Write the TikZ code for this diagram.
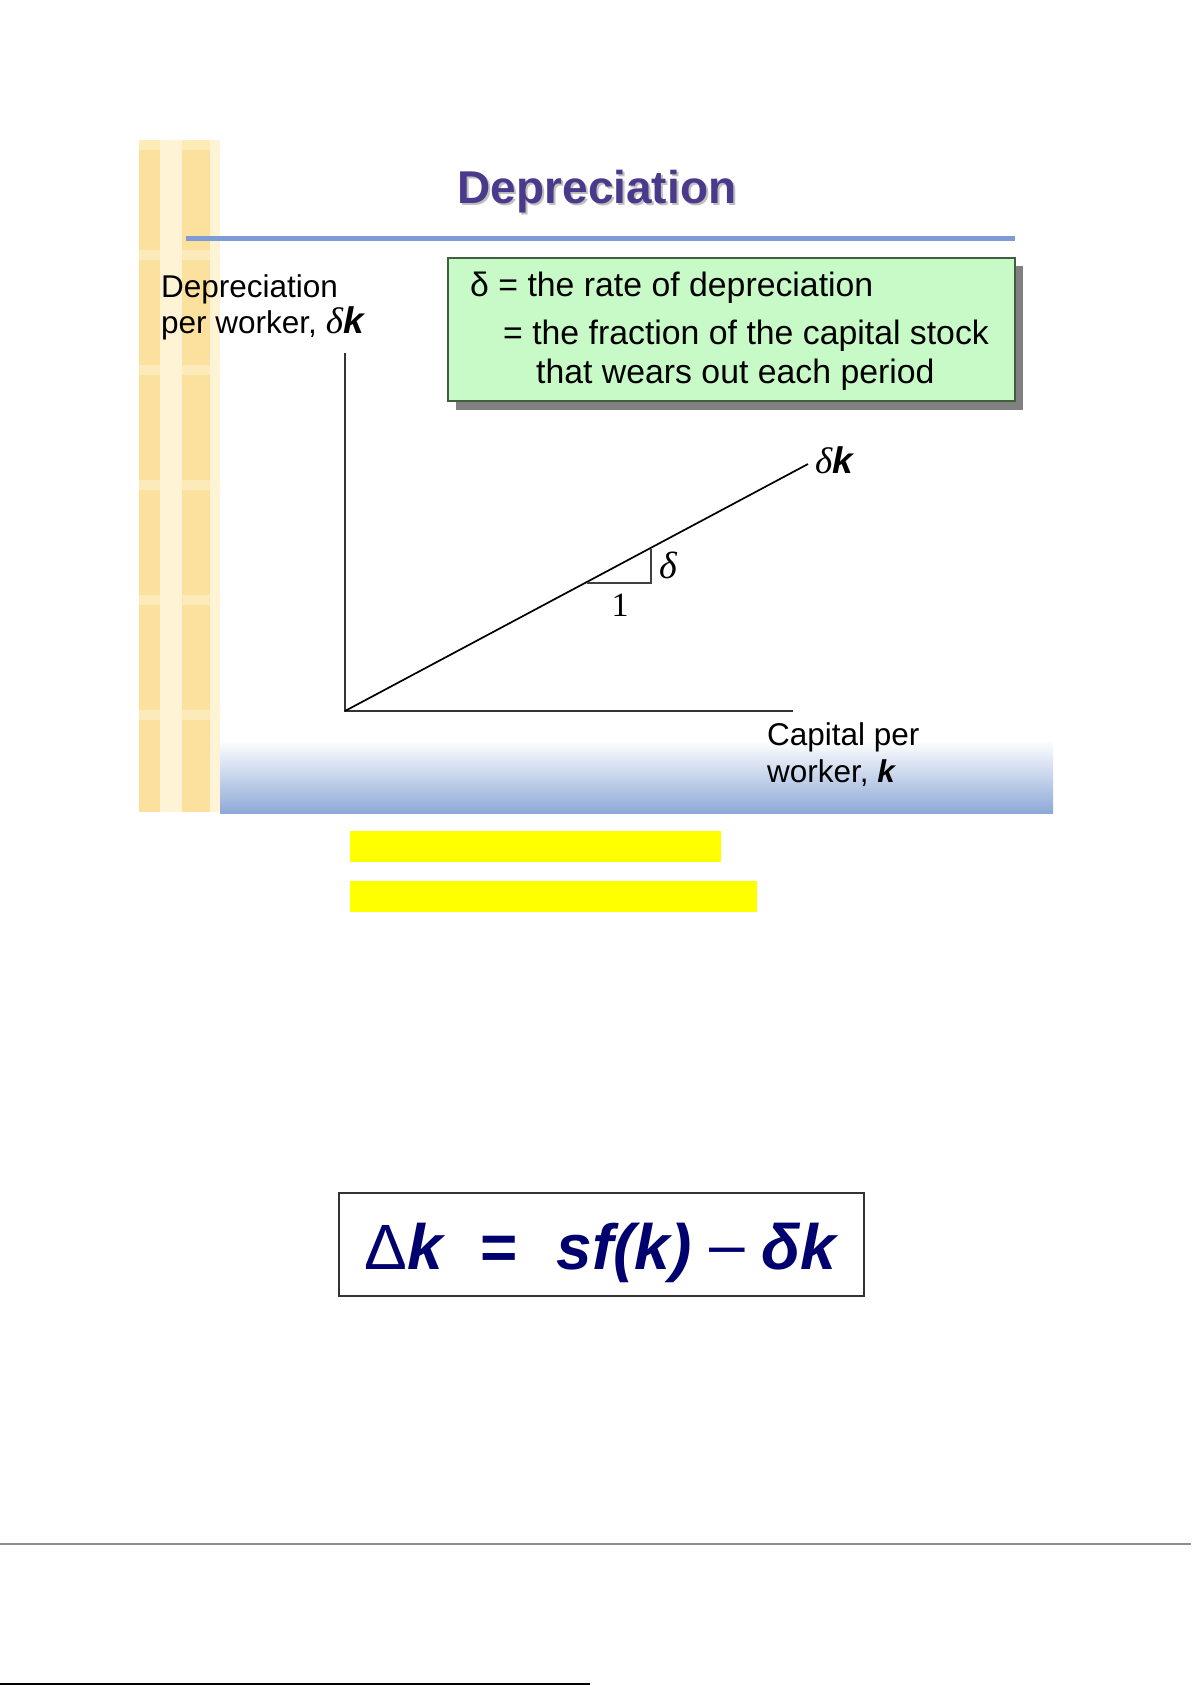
\documentclass[tikz,border=0pt]{standalone}
\usepackage{fontspec}
\setmainfont{Liberation Sans}
\newfontfamily\serifx{Liberation Serif}
\definecolor{stripBase}{HTML}{FDEBB8}
\definecolor{stripDark}{HTML}{FCE19E}
\definecolor{stripLight}{HTML}{FEF3D4}
\definecolor{titlePurple}{HTML}{4B3A8C}
\definecolor{ruleBlue}{HTML}{7F9BD6}
\definecolor{boxGreen}{HTML}{C8FAC8}
\definecolor{boxBorder}{HTML}{3F5F3F}
\definecolor{shadowGray}{HTML}{808080}
\definecolor{gradBlue}{HTML}{8EA9D8}
\definecolor{hiYellow}{HTML}{FFFF00}
\definecolor{navy}{RGB}{0,0,110}
\tikzset{
  txt/.style={inner sep=0pt, anchor=base west, font=\fontsize{31.5}{37}\selectfont},
  boxtxt/.style={inner sep=0pt, anchor=base west, font=\fontsize{33.8}{40}\selectfont},
  axis/.style={line width=1.6pt, black!80},
  curve/.style={line width=1.7pt, black},
  tri/.style={line width=1.2pt, black!75},
  serlab/.style={inner sep=0pt, font=\fontsize{34}{40}\selectfont\serifx},
}
\newcommand{\dk}{{\fontsize{37}{40}\selectfont{\serifx\itshape δ}\textbf{\textit{k}}}}
\begin{document}
\begin{tikzpicture}[x=1pt,y=-1pt]
\useasboundingbox (0,0) rectangle (1191,1685);
\fill[white] (0,0) rectangle (1191,1685);
% left decorative strip
\fill[stripBase] (139,140) rectangle (220,812);
\fill[stripDark] (139,150) rectangle (160,812);
\fill[stripDark] (182,150) rectangle (210,812);
\fill[stripLight] (160,140) rectangle (182,812);
\fill[stripLight] (210,140) rectangle (220,812);
\foreach \yy in {250,365,480,595,710} {
  \fill[stripLight, opacity=0.55] (139,\yy) rectangle (220,\yy+10);
}
% bottom gradient of slide
\shade[top color=white, bottom color=gradBlue] (220,740) rectangle (1053,813);
% title
\node[inner sep=0pt, anchor=base, font=\fontsize{46}{50}\selectfont\bfseries, text=black!25] (titleshadow) at (599,206) {Depreciation};
\node[inner sep=0pt, anchor=base, font=\fontsize{46}{50}\selectfont\bfseries, text=titlePurple] (title) at (597,204) {Depreciation};
% blue rule
\fill[ruleBlue] (186,236) rectangle (1015,241);
% green box with shadow
\fill[shadowGray] (456,266) rectangle (1023,410);
\draw[boxBorder, fill=boxGreen, line width=1.2pt] (448,258) rectangle (1015,401);
\node[boxtxt] (b1) at (470,297) {δ = the rate of depreciation};
\node[boxtxt] (b2) at (503,344) {= the fraction of the capital stock};
\node[boxtxt] (b3) at (536,383) {that wears out each period};
% y axis label
\node[txt] (ylab1) at (161,298) {Depreciation};
\node[txt] (ylab2) at (161,334) {per worker, \dk};
% axes
\coordinate (O) at (345,711);
\coordinate (Ytop) at (345,353);
\coordinate (Xend) at (793,711);
\coordinate (Lend) at (808,464);
\draw[axis] (Ytop) -- (O) -- (Xend);
\draw[curve] (O) -- (Lend);
\node[txt] (linelab) at (815,473) {\dk};
% slope triangle
\coordinate (T1) at (587,583);
\coordinate (T2) at (651,583);
\coordinate (T3) at (651,549);
\draw[tri] (T1) -- (T2) -- (T3);
\node[serlab, font=\fontsize{38}{40}\selectfont\serifx\itshape] (dlt) at (668,565) {δ};
\node[serlab] (one) at (620,605) {1};
% x axis label
\node[txt] (xlab1) at (767,745) {Capital per};
\node[txt] (xlab2) at (767,782) {worker, \textbf{\textit{k}}};
% yellow highlight bars
\fill[hiYellow] (350,831) rectangle (721,862);
\fill[hiYellow] (350,881) rectangle (757,912);
% formula box
\draw[black!80, line width=1.2pt, fill=white] (339,1193) rectangle (864,1296);
\node[inner sep=0pt, anchor=base, text=navy, font=\fontsize{64}{70}\selectfont] (eq) at (601.5,1269)
  {Δ\textbf{\textit{k}}\hspace{0.55em}\textbf{=}\hspace{0.6em}\textbf{\textit{sf(k)}}\hspace{0.28em}\raisebox{0.04em}{–}\hspace{0.25em}\textbf{\textit{δk}}};
% bottom rules
\draw[black!45, line width=1.5pt] (0,1544) -- (1191,1544);
\draw[black, line width=1.5pt] (0,1684) -- (590,1684);
\end{tikzpicture}
\end{document}
